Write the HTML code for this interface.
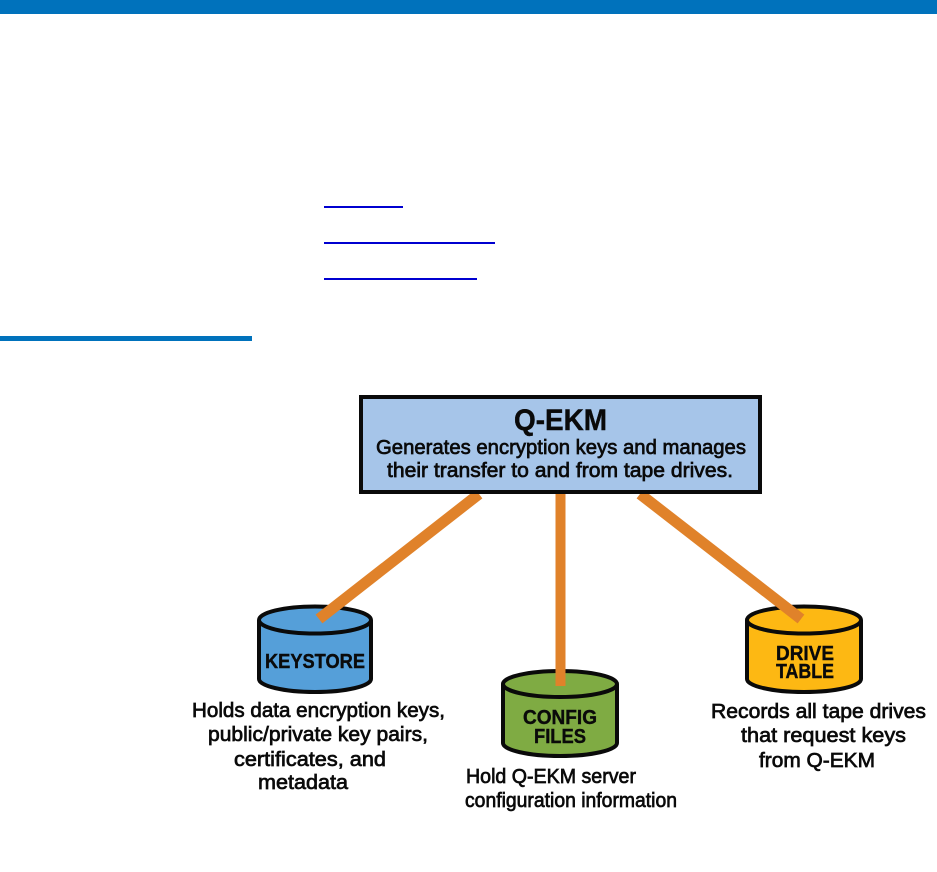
<!DOCTYPE html>
<html>
<head>
<meta charset="utf-8">
<style>
html,body{margin:0;padding:0;background:#fff;}
svg{display:block;}
text{font-family:"Liberation Sans",sans-serif;fill:#0a0a0a;}
.d{font-size:20.5px;stroke:#0a0a0a;stroke-width:.7px;}
.h{font-size:20.5px;font-weight:bold;stroke:#0a0a0a;stroke-width:.4px;}
</style>
</head>
<body>
<svg width="937" height="872" viewBox="0 0 937 872" xmlns="http://www.w3.org/2000/svg">
<rect width="937" height="872" fill="#fff"/>
<rect x="0" y="0" width="937" height="14" fill="#0072bc"/>
<rect x="0" y="336" width="252" height="5" fill="#0072bc"/>
<rect x="324" y="206" width="79" height="2" fill="#0000d0"/>
<rect x="324" y="242" width="171" height="2" fill="#0000d0"/>
<rect x="324" y="278" width="153" height="2" fill="#0000d0"/>

<!-- Keystore -->
<path d="M259 620 V679 C259 686 284 692 315 692 C346 692 371 686 371 679 V620" fill="#559fd9" stroke="#0a0a0a" stroke-width="4"/>
<ellipse cx="315" cy="620" rx="56" ry="13.5" fill="#559fd9" stroke="#0a0a0a" stroke-width="4"/>
<!-- Config -->
<path d="M503 684 V743 C503 750 528 756 560 756 C592 756 617 750 617 743 V684" fill="#7fab43" stroke="#0a0a0a" stroke-width="4"/>
<ellipse cx="560" cy="684" rx="57" ry="13" fill="#7fab43" stroke="#0a0a0a" stroke-width="4"/>
<!-- Drive table -->
<path d="M747 620 V679 C747 686 772 692 804 692 C836 692 861 686 861 679 V620" fill="#fdb813" stroke="#0a0a0a" stroke-width="4"/>
<ellipse cx="804" cy="620" rx="57" ry="13.5" fill="#fdb813" stroke="#0a0a0a" stroke-width="4"/>

<!-- Connectors -->
<g stroke="#e0822a" stroke-width="11" fill="none">
<line x1="479" y1="494" x2="319" y2="619"/>
<line x1="560.5" y1="494" x2="560.5" y2="686" stroke-width="10"/>
<line x1="640" y1="494" x2="801" y2="619"/>
</g>

<!-- Q-EKM box -->
<rect x="361" y="397" width="399" height="95" fill="#a6c5e9" stroke="#0a0a0a" stroke-width="4"/>
<text x="514" y="430" font-size="30" font-weight="bold" stroke="#0a0a0a" stroke-width=".4" textLength="93" lengthAdjust="spacingAndGlyphs">Q-EKM</text>
<text class="d" x="376" y="454" textLength="370" lengthAdjust="spacingAndGlyphs">Generates encryption keys and manages</text>
<text class="d" x="387" y="477" textLength="346" lengthAdjust="spacingAndGlyphs">their transfer to and from tape drives.</text>

<!-- Cylinder labels -->
<text class="h" x="265" y="668" textLength="100" lengthAdjust="spacingAndGlyphs">KEYSTORE</text>
<text class="h" x="523" y="724" textLength="74" lengthAdjust="spacingAndGlyphs">CONFIG</text>
<text class="h" x="534" y="743" textLength="52" lengthAdjust="spacingAndGlyphs">FILES</text>
<text class="h" x="776" y="660" textLength="58" lengthAdjust="spacingAndGlyphs">DRIVE</text>
<text class="h" x="776" y="678" textLength="58" lengthAdjust="spacingAndGlyphs">TABLE</text>

<!-- Descriptions -->
<text class="d" x="192" y="717" textLength="253" lengthAdjust="spacingAndGlyphs">Holds data encryption keys,</text>
<text class="d" x="208" y="741" textLength="220" lengthAdjust="spacingAndGlyphs">public/private key pairs,</text>
<text class="d" x="234" y="766" textLength="152" lengthAdjust="spacingAndGlyphs">certificates, and</text>
<text class="d" x="258" y="789" textLength="90" lengthAdjust="spacingAndGlyphs">metadata</text>

<text class="d" x="466" y="783" textLength="170" lengthAdjust="spacingAndGlyphs">Hold Q-EKM server</text>
<text class="d" x="465" y="807" textLength="212" lengthAdjust="spacingAndGlyphs">configuration information</text>

<text class="d" x="711" y="718" textLength="215" lengthAdjust="spacingAndGlyphs">Records all tape drives</text>
<text class="d" x="741" y="742" textLength="165" lengthAdjust="spacingAndGlyphs">that request keys</text>
<text class="d" x="759" y="767" textLength="116" lengthAdjust="spacingAndGlyphs">from Q-EKM</text>
</svg>
</body>
</html>
